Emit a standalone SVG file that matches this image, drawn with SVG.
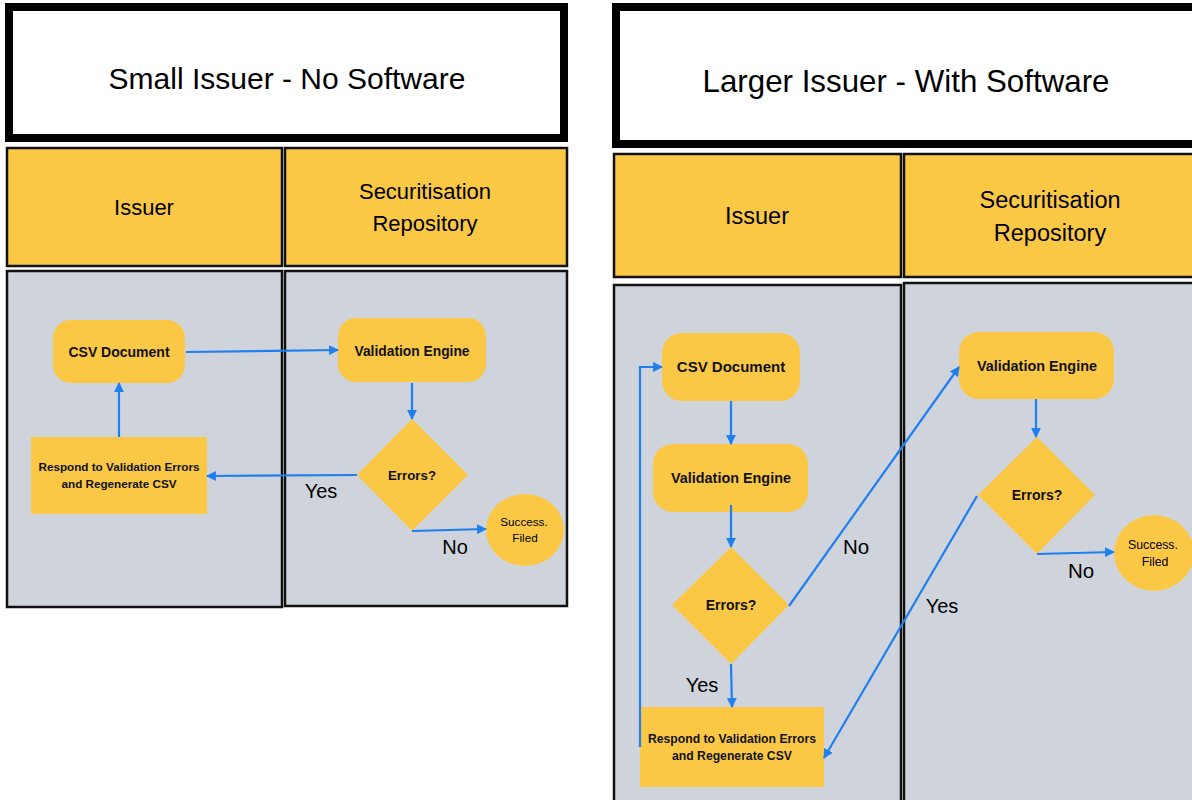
<svg xmlns="http://www.w3.org/2000/svg" width="1192" height="800" viewBox="0 0 1192 800">
<style>
.title{fill:#fff;stroke:#000;stroke-width:8}
.hdr{fill:#FBC846;stroke:#111;stroke-width:2.5}
.lane{fill:#CFD4DC;stroke:#111;stroke-width:2.5}
.node{fill:#FBC846}
.t{font-family:"Liberation Sans",Arial,sans-serif;fill:#000;text-anchor:middle}
.b{font-weight:bold;fill:#111}
.c{fill:none;stroke:#1F7FEF;stroke-width:2.2;marker-end:url(#ah)}
</style>
<defs>
<marker id="ah" viewBox="0 0 10 10" refX="9" refY="5" markerWidth="4.5" markerHeight="4.5" orient="auto" markerUnits="strokeWidth">
<path d="M0,0 L10,5 L0,10 z" fill="#1F7FEF"/>
</marker>
</defs>
<rect width="1192" height="800" fill="#fff"/>

<!-- Left panel -->
<g id="left-title"><rect class="title" x="9" y="7" width="555" height="131"/><text class="t" x="287" y="89" font-size="30">Small Issuer - No Software</text></g>
<g id="left-hdr-issuer"><rect class="hdr" x="7" y="148" width="275" height="118"/><text class="t" x="144" y="215" font-size="22">Issuer</text></g>
<g id="left-hdr-repo"><rect class="hdr" x="285" y="148" width="282" height="118"/><text class="t" x="425" y="199" font-size="22">Securitisation</text><text class="t" x="425" y="231" font-size="22">Repository</text></g>
<g id="left-lane-issuer"><rect class="lane" x="7" y="271" width="275" height="336"/></g>
<g id="left-lane-repo"><rect class="lane" x="285" y="271" width="282" height="335"/></g>

<g id="l-csv"><rect class="node" x="53" y="320" width="132" height="63" rx="18"/><text class="t b" x="119" y="357" font-size="14">CSV Document</text></g>
<g id="l-ve"><rect class="node" x="338" y="318" width="148" height="64" rx="18"/><text class="t b" x="412" y="356" font-size="13.8">Validation Engine</text></g>
<g id="l-err"><polygon class="node" points="412,419 468,475 412,531 357,475"/><text class="t b" x="412" y="480" font-size="13.3">Errors?</text></g>
<g id="l-resp"><rect class="node" x="31" y="437" width="176" height="77"/><text class="t b" x="119" y="471" font-size="11.7">Respond to Validation Errors</text><text class="t b" x="119" y="488" font-size="11.7">and Regenerate CSV</text></g>
<g id="l-succ"><ellipse class="node" cx="525" cy="530" rx="39" ry="36"/><text class="t" x="524" y="526" font-size="11.7" fill="#222">Success.</text><text class="t" x="525" y="542" font-size="11.7" fill="#222">Filed</text></g>

<g id="left-connectors">
<path class="c" d="M186,352 L338,350"/>
<path class="c" d="M412,383 L412,419"/>
<path class="c" d="M357,475 L207,476"/>
<path class="c" d="M412,531 L486,529"/>
<path class="c" d="M119,437 L119,383"/>
<text class="t" x="321" y="498" font-size="20">Yes</text>
<text class="t" x="455" y="554" font-size="20">No</text>
</g>

<!-- Right panel -->
<g id="right-title"><rect class="title" x="616" y="7" width="590" height="137"/><text class="t" x="906" y="92" font-size="31.3">Larger Issuer - With Software</text></g>
<g id="right-hdr-issuer"><rect class="hdr" x="614" y="154" width="287" height="123"/><text class="t" x="757" y="224" font-size="23.5">Issuer</text></g>
<g id="right-hdr-repo"><rect class="hdr" x="904" y="154" width="300" height="123"/><text class="t" x="1050" y="208" font-size="23.5">Securitisation</text><text class="t" x="1050" y="241" font-size="23.5">Repository</text></g>
<g id="right-lane-issuer"><rect class="lane" x="614" y="285" width="287" height="530"/></g>
<g id="right-lane-repo"><rect class="lane" x="904" y="283" width="300" height="530"/></g>

<g id="r-csv"><rect class="node" x="662" y="333" width="138" height="68" rx="20"/><text class="t b" x="731" y="372" font-size="15">CSV Document</text></g>
<g id="r-ve1"><rect class="node" x="653" y="444" width="155" height="68" rx="20"/><text class="t b" x="731" y="483" font-size="14.4">Validation Engine</text></g>
<g id="r-err1"><polygon class="node" points="731,547 789,605 731,664 672,605"/><text class="t b" x="731" y="610" font-size="14">Errors?</text></g>
<g id="r-resp"><rect class="node" x="640" y="707" width="184" height="80"/><text class="t b" x="732" y="743" font-size="12.2">Respond to Validation Errors</text><text class="t b" x="732" y="760" font-size="12.2">and Regenerate CSV</text></g>
<g id="r-ve2"><rect class="node" x="959" y="332" width="155" height="67" rx="20"/><text class="t b" x="1037" y="371" font-size="14.4">Validation Engine</text></g>
<g id="r-err2"><polygon class="node" points="1037,437 1095,495 1037,554 978,495"/><text class="t b" x="1037" y="500" font-size="14">Errors?</text></g>
<g id="r-succ"><ellipse class="node" cx="1154" cy="553" rx="40" ry="38"/><text class="t" x="1153" y="549" font-size="12.3" fill="#222">Success.</text><text class="t" x="1155" y="566" font-size="12.3" fill="#222">Filed</text></g>

<g id="right-connectors">
<path class="c" d="M731,401 L731,444"/>
<path class="c" d="M731,505 L731,547"/>
<path class="c" d="M731,664 L732,707"/>
<path class="c" d="M640,747 L640,367 L662,367"/>
<path class="c" d="M789,606 L959,367"/>
<path class="c" d="M977,496 L824,758"/>
<path class="c" d="M1036,399 L1036,437"/>
<path class="c" d="M1037,554 L1114,552"/>
<text class="t" x="702" y="692" font-size="20">Yes</text>
<text class="t" x="856" y="554" font-size="20.5">No</text>
<text class="t" x="942" y="613" font-size="20">Yes</text>
<text class="t" x="1081" y="578" font-size="20.5">No</text>
</g>
</svg>
